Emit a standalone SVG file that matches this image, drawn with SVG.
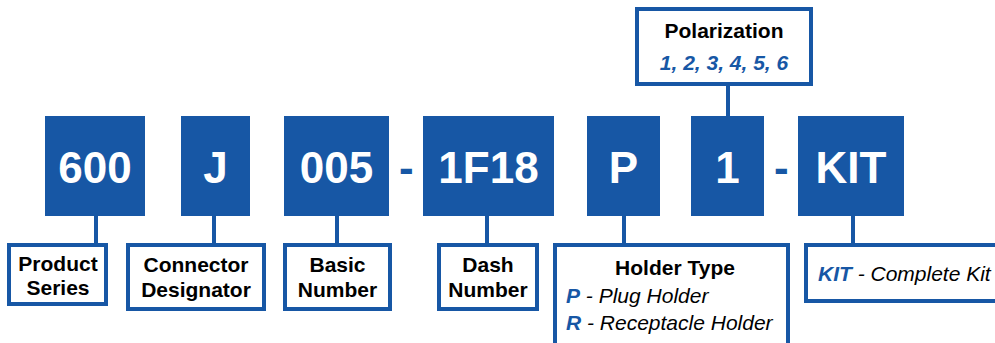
<svg xmlns="http://www.w3.org/2000/svg" width="995" height="343" viewBox="0 0 995 343">
<style>
.code rect{fill:#1757a5}
.code text{fill:#fff;font-family:"Liberation Sans",Arial,sans-serif;font-weight:bold;font-size:44px;text-anchor:middle}
.lbl rect{fill:#fff;stroke:#1757a5;stroke-width:4}
.lbl text{font-family:"Liberation Sans",Arial,sans-serif;font-size:21px;fill:#000}
.b{font-weight:bold}
.c{text-anchor:middle}
.lbl .bl{fill:#1757a5;font-weight:bold;font-style:italic}
.it{font-style:italic}
.dash{fill:#1757a5;font-family:"Liberation Sans",Arial,sans-serif;font-weight:bold;font-size:44px}
#connectors line{stroke:#1757a5;stroke-width:4}
</style>
<rect width="995" height="343" fill="#fff"/>
<g id="connectors">
<line x1="96" y1="216" x2="96" y2="244"/>
<line x1="214" y1="216" x2="214" y2="244"/>
<line x1="337" y1="216" x2="337" y2="244"/>
<line x1="487" y1="216" x2="487" y2="244"/>
<line x1="624" y1="216" x2="624" y2="244"/>
<line x1="728" y1="85" x2="728" y2="116"/>
<line x1="853" y1="216" x2="853" y2="244"/>
</g>
<g id="code-600" class="code"><rect x="45" y="116" width="100" height="100"/><text x="95" y="183">600</text></g>
<g id="code-J" class="code"><rect x="181" y="116" width="69" height="100"/><text x="215.5" y="183">J</text></g>
<g id="code-005" class="code"><rect x="284" y="116" width="105" height="100"/><text x="336.5" y="183">005</text></g>
<text class="dash" x="399" y="183">-</text>
<g id="code-1F18" class="code"><rect x="423" y="116" width="131" height="100"/><text x="488.5" y="183">1F18</text></g>
<g id="code-P" class="code"><rect x="587" y="116" width="73" height="100"/><text x="623.5" y="183">P</text></g>
<g id="code-1" class="code"><rect x="691" y="116" width="73" height="100"/><text x="727.5" y="183">1</text></g>
<text class="dash" x="774" y="183">-</text>
<g id="code-KIT" class="code"><rect x="798" y="116" width="106" height="100"/><text x="851" y="183">KIT</text></g>

<g id="lbl-product" class="lbl"><rect x="9" y="245" width="97" height="59"/>
<text class="b c" x="58" y="271">Product</text><text class="b c" x="58" y="295">Series</text></g>
<g id="lbl-connector" class="lbl"><rect x="128" y="245" width="136" height="64"/>
<text class="b c" x="196" y="272">Connector</text><text class="b c" x="196" y="297">Designator</text></g>
<g id="lbl-basic" class="lbl"><rect x="285" y="245" width="105" height="64"/>
<text class="b c" x="337.5" y="272">Basic</text><text class="b c" x="337.5" y="297">Number</text></g>
<g id="lbl-dash" class="lbl"><rect x="439" y="245" width="98" height="64"/>
<text class="b c" x="488" y="272">Dash</text><text class="b c" x="488" y="297">Number</text></g>
<g id="lbl-holder" class="lbl"><rect x="555" y="245" width="233" height="100"/>
<text class="b c" x="675" y="275">Holder Type</text>
<text x="566" y="303"><tspan class="bl">P</tspan><tspan class="it"> - Plug Holder</tspan></text>
<text x="566" y="330"><tspan class="bl">R</tspan><tspan class="it"> - Receptacle Holder</tspan></text></g>
<g id="lbl-kit" class="lbl"><rect x="806" y="245" width="200" height="56"/>
<text x="818" y="281"><tspan class="bl">KIT</tspan><tspan class="it"> - Complete Kit</tspan></text></g>
<g id="lbl-polarization" class="lbl"><rect x="637" y="9" width="174" height="75"/>
<text class="b c" x="724" y="38">Polarization</text>
<text class="bl c" x="724" y="70">1, 2, 3, 4, 5, 6</text></g>
</svg>
